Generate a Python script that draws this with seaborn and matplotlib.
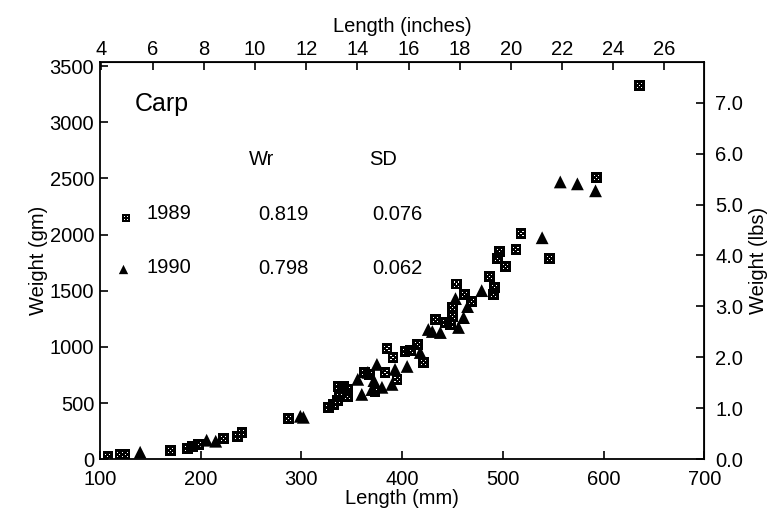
"""Carp length-weight scatter, 1989 vs 1990, with inch / lbs secondary axes."""

import matplotlib
matplotlib.use("Agg")
import matplotlib.pyplot as plt
import numpy as np
import pandas as pd
import seaborn as sns
from matplotlib.path import Path

# 1989 samples (squares)
len_1989 = [108, 120, 125, 170, 187, 192, 198, 223, 237, 241,
            287, 327, 332, 336, 338, 337, 342, 346, 346, 363,
            368, 373, 383, 385, 391, 395, 403, 408, 415, 421,
            433, 443, 448, 450, 450, 454, 462, 469, 487, 491,
            492, 495, 497, 503, 513, 518, 546, 593, 636]
wt_1989 = [27, 45, 45, 80, 98, 115, 133, 187, 204, 240,
           364, 462, 489, 524, 560, 648, 648, 622, 560, 773,
           755, 604, 773, 986, 906, 711, 959, 968, 1022, 862,
           1244, 1217, 1199, 1350, 1270, 1560, 1466, 1404, 1626, 1466,
           1528, 1785, 1848, 1714, 1865, 2008, 1785, 2510, 3330]

# 1990 samples (triangles)
len_1990 = [140, 206, 215, 299, 302, 356, 360, 366, 370, 372,
            375, 380, 390, 393, 405, 418, 426, 430, 438, 453,
            456, 461, 465, 479, 539, 557, 574, 592]
wt_1990 = [62, 169, 160, 382, 373, 711, 577, 773, 620, 700,
           844, 640, 666, 800, 826, 950, 1155, 1137, 1128, 1430,
           1173, 1261, 1359, 1501, 1972, 2469, 2452, 2390]

table_years = ["1989", "1990"]
table_wr = ["0.819", "0.798"]
table_sd = ["0.076", "0.062"]

MM_PER_INCH = 25.4
GM_PER_LB = 453.6
FS = 14.5


def dice_marker():
    """Black square with five small holes, like the stippled symbol in the print."""
    def sq(cx, cy, h, ccw=True):
        pts = [(cx - h, cy - h), (cx + h, cy - h), (cx + h, cy + h), (cx - h, cy + h)]
        if not ccw:
            pts = pts[::-1]
        return pts + [pts[0]]

    verts = sq(0, 0, 1.0)
    codes = [Path.MOVETO] + [Path.LINETO] * 3 + [Path.CLOSEPOLY]
    for cx, cy in [(-0.38, -0.38), (0.38, -0.38), (0.38, 0.38), (-0.38, 0.38), (0, 0)]:
        verts += sq(cx, cy, 0.1, ccw=False)
        codes += [Path.MOVETO] + [Path.LINETO] * 3 + [Path.CLOSEPOLY]
    return Path(verts, codes)


def main():
    sns.set_style("ticks")
    plt.rcParams["font.family"] = ["Liberation Sans", "DejaVu Sans"]
    plt.rcParams["font.size"] = FS
    for key in ["text.color", "axes.labelcolor", "xtick.color", "ytick.color", "axes.edgecolor"]:
        plt.rcParams[key] = "black"

    df89 = pd.DataFrame({"length": len_1989, "weight": wt_1989})
    df90 = pd.DataFrame({"length": len_1990, "weight": wt_1990})

    fig = plt.figure(figsize=(7.74, 5.23), dpi=100)
    ax = fig.add_axes([0.129, 0.122, 0.781, 0.759])

    square = dice_marker()
    sns.scatterplot(data=df89, x="length", y="weight", ax=ax, marker=square,
                    s=60, color="black", edgecolor="none", linewidth=0)
    sns.scatterplot(data=df90, x="length", y="weight", ax=ax, marker="^",
                    s=85, color="black", edgecolor="none", linewidth=0)

    ax.set_xlim(100, 700)
    ax.set_ylim(0, 3535)
    ax.set_xticks(range(100, 701, 100))
    ax.set_yticks(range(0, 3501, 500))
    ax.set_xlabel("Length (mm)", fontsize=FS, labelpad=0)
    ax.set_ylabel("Weight (gm)", fontsize=FS, labelpad=1)
    ax.tick_params(axis="x", direction="in", length=6, width=1.2, labelsize=FS, pad=8)
    ax.tick_params(axis="y", direction="in", length=6, width=1.2, labelsize=FS, pad=4)
    for sp in ax.spines.values():
        sp.set_visible(True)
        sp.set_linewidth(1.3)
        sp.set_color("black")

    top = ax.secondary_xaxis("top", functions=(lambda x: x / MM_PER_INCH,
                                                lambda x: x * MM_PER_INCH))
    top.set_xticks(range(4, 27, 2))
    top.set_xlabel("Length (inches)", fontsize=FS, labelpad=6)
    top.tick_params(direction="in", length=6, width=1.2, labelsize=FS, pad=2)

    right = ax.secondary_yaxis("right", functions=(lambda y: y / GM_PER_LB,
                                                   lambda y: y * GM_PER_LB))
    lb_ticks = np.arange(0, 7.01, 1.0)
    right.set_yticks(lb_ticks)
    right.set_yticklabels([f"{v:.1f}" for v in lb_ticks])
    right.set_ylabel("Weight (lbs)", fontsize=FS, labelpad=4)
    right.tick_params(direction="in", length=6, width=1.2, labelsize=FS, pad=8)

    # in-plot summary table
    ax.text(135, 3160, "Carp", fontsize=18, va="center", ha="left")
    ax.text(261, 2670, "Wr", fontsize=FS, va="center", ha="center")
    ax.text(381, 2670, "SD", fontsize=FS, va="center", ha="center")
    rows_y = [2190, 1710]
    for yr, wr, sd, yy in zip(table_years, table_wr, table_sd, rows_y):
        ax.text(146, yy, yr, fontsize=FS, va="center", ha="left")
        ax.text(282, yy - 10, wr, fontsize=FS, va="center", ha="center")
        ax.text(395, yy - 10, sd, fontsize=FS, va="center", ha="center")
    ax.scatter([126], [2150], marker=square, s=30, color="black", linewidths=0)
    ax.scatter([123], [1690], marker="^", s=45, color="black", linewidths=0)

    fig.savefig("out.png", dpi=100)
    plt.close(fig)


if __name__ == "__main__":
    main()
